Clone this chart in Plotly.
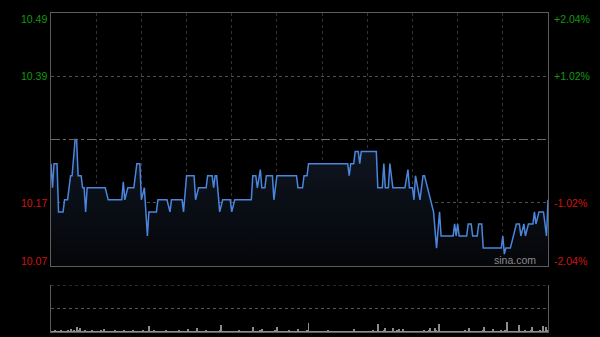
import plotly.graph_objects as go

# ---- data ----
# price breakpoints: minute index (0..330, HK session, 30-min grid) and price
minutes = [0, 1, 2, 4, 5, 8, 9, 11, 13, 14, 16, 17, 18, 20, 21, 22, 23, 24, 36, 38,
           47, 48, 49, 51, 55, 57, 59, 60, 62, 64, 65, 70, 71, 77, 79, 80, 87, 88, 90, 95,
           96, 98, 103, 104, 107, 108, 109, 110, 112, 114, 119, 120, 122, 133, 134, 136, 137, 139, 140, 142,
           143, 147, 148, 150, 163, 164, 167, 168, 170, 171, 197, 198, 199, 201, 202, 204, 205, 206, 216, 217,
           220, 221, 222, 224, 225, 227, 235, 237, 238, 240, 241, 242, 245, 247, 248, 250, 252, 254, 256, 258,
           259, 267, 268, 269, 270, 271, 276, 277, 279, 280, 283, 284, 286, 287, 299, 300, 301, 302, 305, 307,
           309, 311, 312, 314, 315, 317, 320, 321, 322, 324, 327, 329, 330]
prices = [10.24, 10.20, 10.24, 10.24, 10.16, 10.16, 10.18, 10.18, 10.22, 10.22, 10.28, 10.28, 10.22, 10.22, 10.20, 10.20, 10.16, 10.20, 10.20, 10.18,
          10.18, 10.21, 10.18, 10.20, 10.20, 10.24, 10.24, 10.18, 10.20, 10.12, 10.16, 10.16, 10.18, 10.18, 10.16, 10.18, 10.18, 10.16, 10.22, 10.22,
          10.18, 10.20, 10.20, 10.22, 10.22, 10.20, 10.22, 10.22, 10.16, 10.18, 10.18, 10.16, 10.18, 10.18, 10.22, 10.22, 10.20, 10.23, 10.20, 10.20,
          10.22, 10.22, 10.18, 10.22, 10.22, 10.20, 10.20, 10.22, 10.22, 10.24, 10.24, 10.22, 10.24, 10.24, 10.26, 10.26, 10.24, 10.26, 10.26, 10.20,
          10.20, 10.24, 10.20, 10.20, 10.24, 10.20, 10.20, 10.23, 10.20, 10.20, 10.18, 10.22, 10.18, 10.22, 10.22, 10.20, 10.18, 10.16, 10.10, 10.16,
          10.12, 10.12, 10.14, 10.12, 10.14, 10.12, 10.12, 10.14, 10.14, 10.12, 10.12, 10.14, 10.14, 10.10, 10.10, 10.12, 10.09, 10.10, 10.10, 10.12,
          10.14, 10.14, 10.12, 10.14, 10.12, 10.14, 10.14, 10.16, 10.14, 10.16, 10.16, 10.12, 10.18]

volume = [1, 1, 2, 1, 1, 1, 2, 1, 1, 1,
          1, 2, 1, 3, 1, 2, 1, 5, 2, 4,
          1, 1, 2, 1, 1, 1, 1, 2, 1, 1,
          1, 1, 1, 2, 1, 3, 1, 1, 1, 1,
          1, 1, 2, 1, 1, 1, 1, 1, 2, 1,
          1, 1, 1, 1, 2, 1, 1, 1, 1, 1,
          1, 2, 1, 1, 1, 6, 1, 1, 2, 1,
          1, 1, 1, 1, 1, 1, 2, 1, 1, 1,
          1, 1, 1, 1, 1, 2, 1, 1, 1, 1,
          1, 3, 1, 1, 1, 1, 1, 4, 1, 1,
          1, 1, 1, 2, 1, 1, 1, 1, 1, 1,
          1, 1, 2, 7, 1, 1, 1, 1, 1, 1,
          1, 1, 1, 1, 1, 2, 1, 1, 1, 1,
          1, 1, 1, 1, 5, 1, 1, 1, 1, 2,
          3, 1, 1, 1, 1, 1, 1, 1, 1, 2,
          5, 1, 1, 1, 1, 1, 1, 1, 2, 1,
          1, 1, 1, 1, 3, 1, 1, 1, 1, 1,
          2, 9, 1, 1, 1, 1, 1, 1, 1, 1,
          1, 1, 1, 1, 2, 1, 1, 1, 1, 1,
          1, 1, 1, 1, 1, 1, 1, 1, 1, 1,
          1, 3, 1, 1, 1, 1, 1, 1, 1, 1,
          1, 1, 1, 1, 2, 1, 1, 8, 1, 1,
          1, 2, 4, 1, 1, 1, 1, 4, 1, 1,
          2, 3, 1, 1, 3, 1, 1, 1, 1, 1,
          1, 1, 1, 1, 1, 1, 1, 1, 2, 1,
          1, 2, 4, 1, 1, 4, 2, 1, 8, 1,
          1, 1, 1, 1, 1, 1, 1, 1, 1, 1,
          1, 1, 1, 1, 1, 2, 1, 1, 4, 1,
          1, 1, 1, 1, 1, 1, 1, 2, 5, 1,
          1, 1, 1, 1, 3, 1, 1, 1, 1, 2,
          1, 1, 2, 10, 1, 1, 1, 1, 1, 1,
          1, 7, 1, 1, 1, 2, 1, 1, 1, 2,
          5, 1, 1, 1, 1, 2, 1, 6, 1, 5,
          2]
vol_minutes = list(range(len(volume)))

prev_close = 10.28
price_lo, price_hi = 10.0703, 10.4897
left_labels = ["10.49", "10.39", "10.17", "10.07"]
left_vals = [10.4897, 10.385, 10.175, 10.0703]
right_labels = ["+2.04%", "+1.02%", "-1.02%", "-2.04%"]
label_colors = ["#109a10", "#109a10", "#d01414", "#d01414"]
grid_minutes = [30, 60, 90, 120, 150, 180, 210, 240, 270, 300]
n_minutes = 330
vol_max = 47

# ---- figure ----
fig = go.Figure()

fig.add_trace(go.Scatter(
    x=minutes, y=prices, mode="lines",
    line=dict(color="#4a86dc", width=1.5),
    fill="tozeroy",
    fillgradient=dict(type="vertical",
                      colorscale=[[0, "#050609"], [1, "#0f1622"]],
                      start=price_lo, stop=prev_close),
    xaxis="x", yaxis="y", showlegend=False, hoverinfo="skip"))

fig.add_trace(go.Bar(
    x=vol_minutes, y=volume, marker=dict(color="#8c8c8c", line=dict(width=0)),
    xaxis="x2", yaxis="y2", showlegend=False, hoverinfo="skip"))

x_dom = [51 / 600, 548 / 600]
fig.update_layout(
    width=600, height=337,
    margin=dict(l=0, r=0, t=0, b=0),
    paper_bgcolor="black", plot_bgcolor="black",
    bargap=0.35,
    xaxis=dict(domain=x_dom, range=[0, n_minutes], tickvals=grid_minutes,
               showticklabels=False, ticks="", showgrid=True, gridcolor="#333333",
               griddash="dot", gridwidth=1, zeroline=False,
               showline=True, linecolor="#5c5c5c", linewidth=1, mirror=True),
    yaxis=dict(domain=[(337 - 266) / 337, (337 - 13) / 337], range=[price_lo, price_hi],
               tickvals=[10.385, 10.175], showticklabels=False, ticks="",
               showgrid=True, gridcolor="#505050", griddash="dot", gridwidth=1,
               zeroline=False, showline=True, linecolor="#5c5c5c", linewidth=1, mirror=True),
    xaxis2=dict(domain=x_dom, range=[-0.5, n_minutes + 0.5], anchor="y2",
                showticklabels=False, ticks="", showgrid=False, zeroline=False,
                showline=True, linecolor="#5c5c5c", linewidth=1, mirror=False),
    yaxis2=dict(domain=[(337 - 332) / 337, (337 - 285) / 337], range=[0, vol_max], anchor="x2",
                showticklabels=False, ticks="", showgrid=False, zeroline=False,
                showline=True, linecolor="#5c5c5c", linewidth=1, mirror=True),
)

# previous-close dash-dot line
fig.add_shape(type="line", xref="x domain", yref="y", x0=0, x1=1, y0=prev_close, y1=prev_close,
              line=dict(color="#6a6a6a", width=1, dash="dashdot"))
# volume panel dotted lines (top and middle)
for v in [vol_max, vol_max / 2]:
    fig.add_shape(type="line", xref="x2 domain", yref="y2", x0=0, x1=1, y0=v, y1=v,
                  line=dict(color="#555555", width=1, dash="dot"))

font = dict(family="Liberation Sans, Arial, sans-serif", size=10.5)
for i, (lt, rt, v, c) in enumerate(zip(left_labels, right_labels, left_vals, label_colors)):
    ya = "top" if i == 0 else ("bottom" if i == len(left_vals) - 1 else "middle")
    yshift = 2 if i == 0 else (-3 if i == len(left_vals) - 1 else 0)
    fig.add_annotation(xref="x domain", yref="y", x=0, y=v, text=lt, showarrow=False,
                       xanchor="right", yanchor=ya, xshift=-2, yshift=yshift,
                       font=dict(color=c, **font))
    fig.add_annotation(xref="x domain", yref="y", x=1, y=v, text=rt, showarrow=False,
                       xanchor="left", yanchor=ya, xshift=4, yshift=yshift,
                       font=dict(color=c, **font))

fig.add_annotation(xref="x domain", yref="y domain", x=0.98, y=0.0, text="sina.com",
                   showarrow=False, xanchor="right", yanchor="bottom", yshift=-2,
                   font=dict(color="#8a8a8a", family="Liberation Sans, Arial, sans-serif", size=10.5))

fig.write_html("out.html")
